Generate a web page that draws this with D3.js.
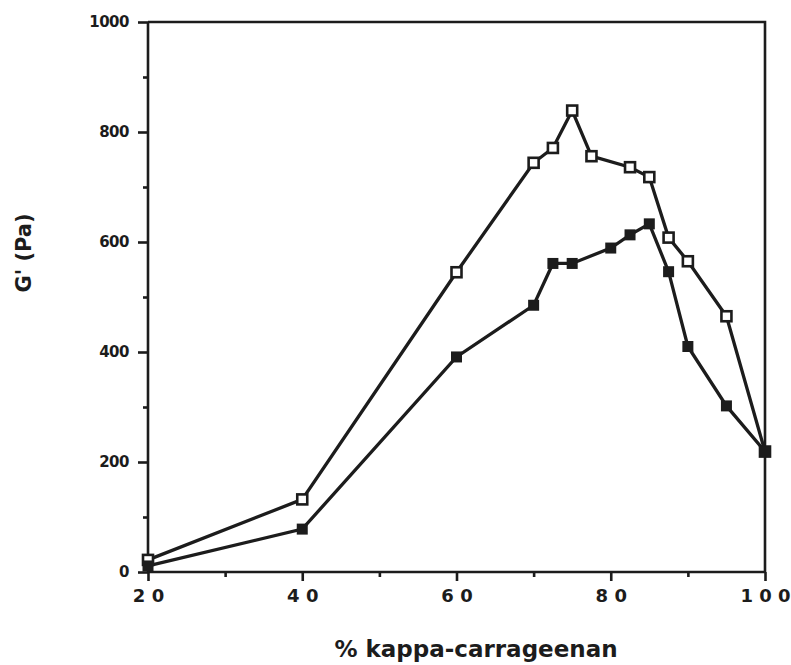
<!DOCTYPE html>
<html><head><meta charset="utf-8">
<script src="https://cdn.jsdelivr.net/npm/d3@7"></script>
<style>body{margin:0;background:#fff}svg{display:block}</style>
</head><body>
<script>
const xOpen = [20, 40, 60, 70, 72.5, 75, 77.5, 82.5, 85, 87.5, 90, 95, 100];
const yOpen = [22, 132, 545, 744, 771, 839, 756, 736, 718, 608, 565, 465, 219];
const xFilled = [20, 40, 60, 70, 72.5, 75, 80, 82.5, 85, 87.5, 90, 95, 100];
const yFilled = [11, 78, 391, 485, 561, 561, 589, 613, 633, 546, 410, 302, 219];
const xTicks = [20, 40, 60, 80, 100];
const xMinor = [30, 50, 70, 90];
const yTicks = [0, 200, 400, 600, 800, 1000];
const yMinor = [100, 300, 500, 700, 900];

const W = 791, H = 665;
const FONT = "'DejaVu Sans', Verdana, sans-serif";
const svg = d3.select("body").append("svg").attr("width", W).attr("height", H);
const x = d3.scaleLinear().domain([20, 100]).range([148, 765]);
const y = d3.scaleLinear().domain([0, 1000]).range([572, 22]);
const col = "#1c1c1c";

// frame
svg.append("path").attr("d", `M${x(20)},${y(1000)}H${x(100)}V${y(0)}`).attr("fill","none").attr("stroke",col).attr("stroke-width",2.6);

const xAxis = svg.append("g").attr("transform",`translate(0,${y(0)})`)
  .call(d3.axisBottom(x).tickValues(xTicks).tickSize(9).tickPadding(8).tickFormat(d => String(d).split("").join(" ")));
xAxis.selectAll("text").attr("font-size",18).attr("font-family",FONT).attr("font-weight","bold").attr("fill",col);
const xM = svg.append("g").attr("transform",`translate(0,${y(0)})`)
  .call(d3.axisBottom(x).tickValues(xMinor).tickSize(5).tickFormat(""));
const yAxis = svg.append("g").attr("transform",`translate(${x(20)},0)`)
  .call(d3.axisLeft(y).tickValues(yTicks).tickSize(10).tickPadding(9).tickFormat(d3.format("d")));
yAxis.selectAll("text").attr("font-size",15).attr("font-family",FONT).attr("font-weight","bold").attr("fill",col).style("letter-spacing","-0.5px");
const yM = svg.append("g").attr("transform",`translate(${x(20)},0)`)
  .call(d3.axisLeft(y).tickValues(yMinor).tickSize(5).tickFormat(""));
[xAxis,xM,yAxis,yM].forEach(g => {
  g.select(".domain").attr("stroke",col).attr("stroke-width",2.6);
  g.selectAll(".tick line").attr("stroke",col).attr("stroke-width",2.6);
});
xM.select(".domain").remove(); yM.select(".domain").remove();
xAxis.select(".domain").attr("d",`M${x(20)},0H${x(100)}`);
yAxis.select(".domain").attr("d",`M0,${y(0)}V${y(1000)}`);

const line = d3.line().x(d => x(d[0])).y(d => y(d[1]));
const openPts = xOpen.map((v,i) => [v, yOpen[i]]);
const filledPts = xFilled.map((v,i) => [v, yFilled[i]]);
svg.append("path").datum(openPts).attr("d",line).attr("fill","none").attr("stroke",col).attr("stroke-width",3.3);
svg.append("path").datum(filledPts).attr("d",line).attr("fill","none").attr("stroke",col).attr("stroke-width",3.3);
const s = 11;
svg.selectAll(".op").data(openPts).enter().append("rect")
  .attr("x", d => x(d[0]) - s/2 + 0.5).attr("y", d => y(d[1]) - s/2 + 0.5).attr("width", s-1).attr("height", s-1)
  .attr("fill","#fff").attr("stroke",col).attr("stroke-width",2.6);
svg.selectAll(".fp").data(filledPts).enter().append("rect")
  .attr("x", d => x(d[0]) - s/2).attr("y", d => y(d[1]) - s/2).attr("width", s).attr("height", s)
  .attr("fill",col);

svg.append("text").attr("x",476).attr("y",657).attr("text-anchor","middle")
  .attr("font-family",FONT).attr("font-weight","bold").attr("font-size",23).attr("fill",col).text("% kappa-carrageenan");
svg.append("text").attr("transform","translate(31,253) rotate(-90)").attr("text-anchor","middle")
  .attr("font-family",FONT).attr("font-weight","bold").attr("font-size",21).attr("fill",col).text("G' (Pa)");
</script>
</body></html>
